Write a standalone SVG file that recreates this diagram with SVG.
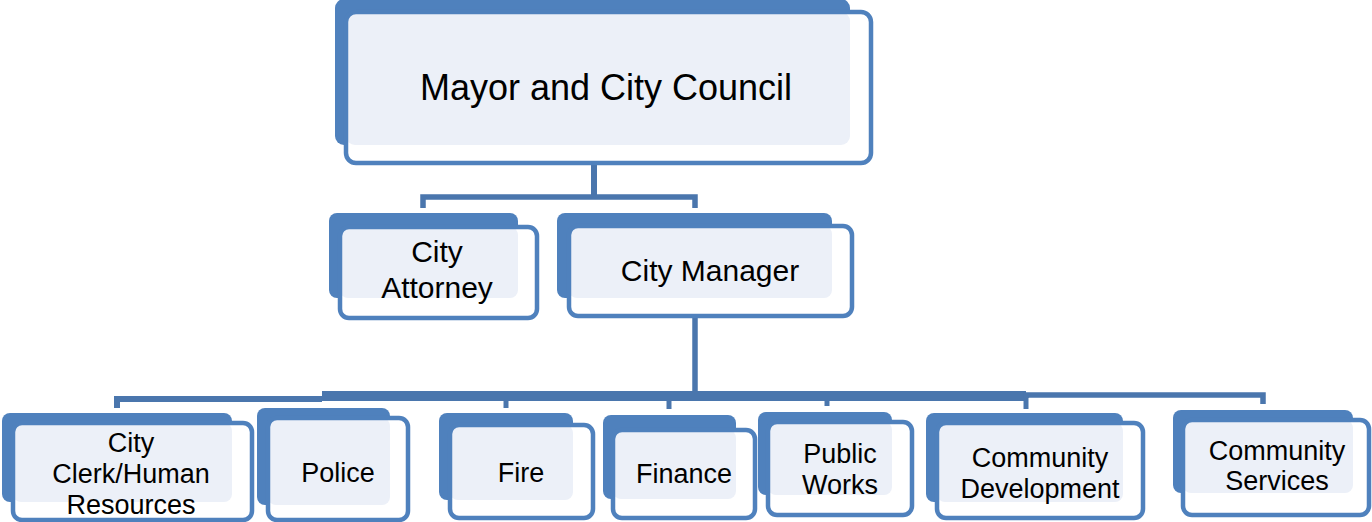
<svg xmlns="http://www.w3.org/2000/svg" width="1372" height="522" viewBox="0 0 1372 522">
<style>
.bk{fill:#4F81BD}
.fw{fill:#FFFFFF}
.lt{fill:#ECF0F8}
.fs{fill:none;stroke:#4F81BD;stroke-width:4.5}
.cn{fill:none;stroke:#4A76AD;stroke-linecap:butt}
text{font-family:"Liberation Sans",Arial,sans-serif;fill:#000;text-anchor:middle}
.t1{font-size:36px}
.t2{font-size:30px}
.t3{font-size:27px}
</style>
<rect width="1372" height="522" fill="#FFFFFF"/>
<g id="connectors">
<line class="cn" x1="594" y1="148" x2="594" y2="163" stroke-width="5" style="stroke:#DDE5F1"/>
<line class="cn" x1="594" y1="163" x2="594" y2="199" stroke-width="6"/>
<polyline class="cn" points="423,208 423,197 695,197 695,208" stroke-width="5.5"/>
<line class="cn" x1="695" y1="300" x2="695" y2="316" stroke-width="5" style="stroke:#DDE5F1"/>
<line class="cn" x1="695" y1="316" x2="695" y2="400" stroke-width="5.5"/>
<line class="cn" x1="322" y1="396" x2="1026" y2="396" stroke-width="10"/>
<polyline class="cn" points="117,408 117,399 322,399" stroke-width="6"/>
<polyline class="cn" points="1026,398 1026,395 1263,395 1263,404" stroke-width="5.5"/>
<line class="cn" x1="1026" y1="396" x2="1026" y2="409" stroke-width="5"/>
<line class="cn" x1="506" y1="400" x2="506" y2="408" stroke-width="5"/>
<line class="cn" x1="669" y1="400" x2="669" y2="409" stroke-width="5"/>
<line class="cn" x1="827" y1="400" x2="827" y2="406" stroke-width="5"/>
</g>
<g id="mayor">
<rect class="bk" x="335" y="-1" width="515" height="146" rx="9"/>
<rect class="fw" x="346" y="12" width="525" height="151" rx="10"/>
<rect class="lt" x="346" y="12" width="504" height="133" rx="9"/>
<rect class="fs" x="346" y="12" width="525" height="151" rx="10"/>
<text class="t1" x="606" y="100">Mayor and City Council</text>
</g>
<g id="city-attorney">
<rect class="bk" x="329" y="213" width="189" height="85" rx="8"/>
<rect class="fw" x="340" y="227" width="197" height="91" rx="9"/>
<rect class="lt" x="340" y="227" width="178" height="71" rx="8"/>
<rect class="fs" x="340" y="227" width="197" height="91" rx="9"/>
<text class="t2" x="437" y="262">City</text>
<text class="t2" x="437" y="298">Attorney</text>
</g>
<g id="city-manager">
<rect class="bk" x="557" y="213" width="275" height="85" rx="8"/>
<rect class="fw" x="569" y="226" width="283" height="90" rx="9"/>
<rect class="lt" x="569" y="226" width="263" height="72" rx="8"/>
<rect class="fs" x="569" y="226" width="283" height="90" rx="9"/>
<text class="t2" x="710" y="281">City Manager</text>
</g>
<g id="city-clerk">
<rect class="bk" x="2" y="413" width="230" height="89" rx="8"/>
<rect class="fw" x="13" y="423" width="239" height="97" rx="9"/>
<rect class="lt" x="13" y="423" width="219" height="79" rx="8"/>
<rect class="fs" x="13" y="423" width="239" height="97" rx="9"/>
<text class="t3" x="131" y="452">City</text>
<text class="t3" x="131" y="483">Clerk/Human</text>
<text class="t3" x="131" y="514">Resources</text>
</g>
<g id="police">
<rect class="bk" x="257" y="408" width="133" height="97" rx="8"/>
<rect class="fw" x="268" y="418" width="140" height="102" rx="9"/>
<rect class="lt" x="268" y="418" width="122" height="87" rx="8"/>
<rect class="fs" x="268" y="418" width="140" height="102" rx="9"/>
<text class="t3" x="338" y="482">Police</text>
</g>
<g id="fire">
<rect class="bk" x="439" y="413" width="134" height="87" rx="8"/>
<rect class="fw" x="450" y="425" width="143" height="93" rx="9"/>
<rect class="lt" x="450" y="425" width="123" height="75" rx="8"/>
<rect class="fs" x="450" y="425" width="143" height="93" rx="9"/>
<text class="t3" x="521" y="482">Fire</text>
</g>
<g id="finance">
<rect class="bk" x="603" y="415" width="133" height="84" rx="8"/>
<rect class="fw" x="613" y="430" width="142" height="88" rx="9"/>
<rect class="lt" x="613" y="430" width="123" height="69" rx="8"/>
<rect class="fs" x="613" y="430" width="142" height="88" rx="9"/>
<text class="t3" x="684" y="483">Finance</text>
</g>
<g id="public-works">
<rect class="bk" x="758" y="412" width="134" height="83" rx="8"/>
<rect class="fw" x="768" y="422" width="144" height="93" rx="9"/>
<rect class="lt" x="768" y="422" width="124" height="73" rx="8"/>
<rect class="fs" x="768" y="422" width="144" height="93" rx="9"/>
<text class="t3" x="840" y="463">Public</text>
<text class="t3" x="840" y="494">Works</text>
</g>
<g id="community-development">
<rect class="bk" x="926" y="413" width="197" height="89" rx="8"/>
<rect class="fw" x="937" y="423" width="206" height="95" rx="9"/>
<rect class="lt" x="937" y="423" width="186" height="79" rx="8"/>
<rect class="fs" x="937" y="423" width="206" height="95" rx="9"/>
<text class="t3" x="1040" y="467">Community</text>
<text class="t3" x="1040" y="498">Development</text>
</g>
<g id="community-services">
<rect class="bk" x="1173" y="410" width="180" height="83" rx="8"/>
<rect class="fw" x="1183" y="420" width="186" height="95" rx="9"/>
<rect class="lt" x="1183" y="420" width="170" height="73" rx="8"/>
<rect class="fs" x="1183" y="420" width="186" height="95" rx="9"/>
<text class="t3" x="1277" y="460">Community</text>
<text class="t3" x="1277" y="490">Services</text>
</g>
</svg>
